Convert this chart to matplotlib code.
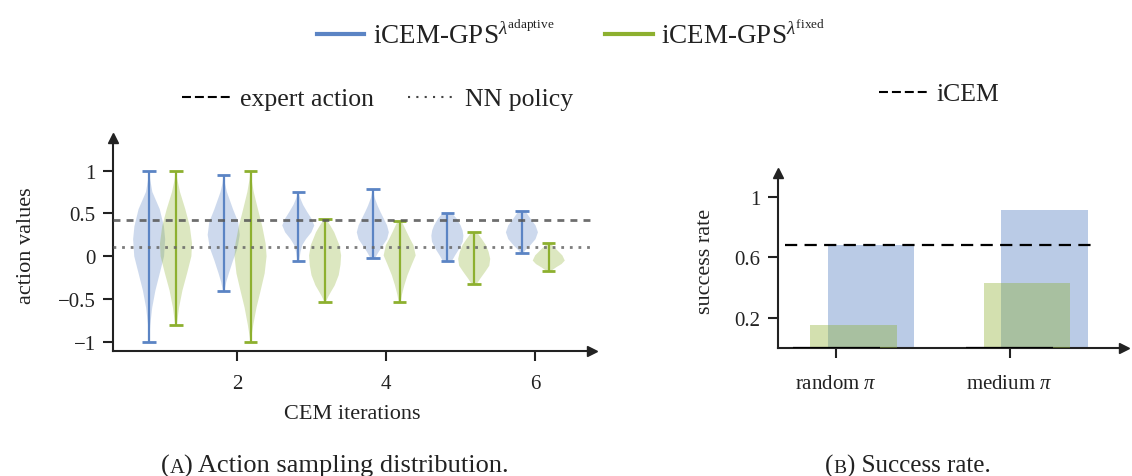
import numpy as np
import matplotlib
matplotlib.use("Agg")
import matplotlib.pyplot as plt
from matplotlib.lines import Line2D

plt.rcParams["font.family"] = ["Liberation Serif", "DejaVu Serif"]
plt.rcParams["mathtext.fontset"] = "custom"
plt.rcParams["mathtext.rm"] = "Liberation Serif"
plt.rcParams["mathtext.it"] = "Liberation Serif:italic"
plt.rcParams["mathtext.bf"] = "Liberation Serif:bold"
plt.rcParams["axes.unicode_minus"] = True

# ---------------------------------------------------------------- data
iterations = [1, 2, 3, 4, 5, 6]

adaptive_min = [-1.00, -0.40, -0.06, -0.02, -0.05, 0.04]
adaptive_max = [1.00, 0.95, 0.75, 0.78, 0.50, 0.53]
fixed_min = [-0.80, -1.00, -0.53, -0.53, -0.32, -0.17]
fixed_max = [1.00, 1.00, 0.44, 0.41, 0.28, 0.15]

# sampled action density per iteration (action value, relative density)
adaptive_density_y = [
    [-1.0, -0.8, -0.6, -0.4, -0.2, 0.0, 0.2, 0.35, 0.55, 0.75, 0.9, 1.0],
    [-0.4, -0.3, -0.2, -0.05, 0.1, 0.25, 0.4, 0.55, 0.75, 0.85, 0.95],
    [-0.06, 0.05, 0.13, 0.2, 0.28, 0.36, 0.44, 0.52, 0.6, 0.68, 0.75],
    [-0.02, 0.05, 0.13, 0.2, 0.28, 0.36, 0.44, 0.52, 0.59, 0.68, 0.78],
    [-0.05, 0.01, 0.09, 0.17, 0.24, 0.3, 0.36, 0.44, 0.5],
    [0.04, 0.07, 0.13, 0.2, 0.28, 0.36, 0.44, 0.53],
]
adaptive_density = [
    [0.0, 0.07, 0.19, 0.39, 0.66, 0.93, 1.0, 0.92, 0.66, 0.2, 0.06, 0.0],
    [0.05, 0.16, 0.32, 0.58, 0.87, 1.0, 0.9, 0.58, 0.2, 0.08, 0.0],
    [0.05, 0.14, 0.25, 0.48, 0.82, 1.0, 0.82, 0.55, 0.3, 0.12, 0.0],
    [0.15, 0.36, 0.64, 0.89, 1.0, 0.89, 0.68, 0.47, 0.3, 0.12, 0.0],
    [0.3, 0.48, 0.75, 0.96, 1.0, 0.95, 0.83, 0.58, 0.3],
    [0.1, 0.21, 0.53, 0.85, 1.0, 0.85, 0.53, 0.2],
]
fixed_density_y = [
    [-0.8, -0.6, -0.4, -0.2, 0.0, 0.15, 0.35, 0.55, 0.75, 0.9, 1.0],
    [-1.0, -0.8, -0.6, -0.4, -0.2, 0.0, 0.15, 0.35, 0.55, 0.75, 0.9, 1.0],
    [-0.53, -0.47, -0.41, -0.34, -0.22, -0.1, 0.01, 0.13, 0.2, 0.28, 0.36, 0.44],
    [-0.53, -0.45, -0.34, -0.22, -0.1, 0.01, 0.13, 0.2, 0.28, 0.36, 0.41],
    [-0.32, -0.26, -0.18, -0.11, -0.03, 0.05, 0.13, 0.2, 0.28],
    [-0.17, -0.13, -0.09, -0.05, 0.01, 0.07, 0.13, 0.15],
]
fixed_density = [
    [0.05, 0.19, 0.4, 0.69, 0.96, 1.0, 0.86, 0.58, 0.25, 0.08, 0.0],
    [0.0, 0.17, 0.37, 0.63, 0.88, 1.0, 0.94, 0.73, 0.46, 0.2, 0.06, 0.0],
    [0.05, 0.2, 0.38, 0.6, 0.85, 0.96, 1.0, 0.89, 0.74, 0.57, 0.32, 0.03],
    [0.06, 0.14, 0.29, 0.49, 0.75, 1.0, 0.86, 0.66, 0.45, 0.25, 0.12],
    [0.17, 0.38, 0.69, 0.94, 1.0, 0.9, 0.73, 0.48, 0.17],
    [0.15, 0.45, 0.8, 1.0, 0.85, 0.53, 0.21, 0.05],
]

expert_action = 0.42
nn_policy_action = 0.11

policies = ["random $\\pi$", "medium $\\pi$"]
adaptive_success = [0.68, 0.914]
fixed_success = [0.151, 0.432]
nn_policy_success = [0.0, 0.0]
icem_success = 0.68

# ---------------------------------------------------------------- style
BLUE = "#5b84c4"
GREEN = "#8db02f"
INK = "#222222"
FS_TICK = 15
FS_LABEL = 16
FS_BIG = 18.5
FS_TOP = 19.5

W, H = 1132, 477
fig = plt.figure(figsize=(W / 100, H / 100), dpi=100)


def px_axes(x0, y0, x1, y1):
    return fig.add_axes([x0 / W, 1 - y1 / H, (x1 - x0) / W, (y1 - y0) / H])


def arrow_axes(ax):
    for side in ("top", "right"):
        ax.spines[side].set_visible(False)
    for side in ("left", "bottom"):
        ax.spines[side].set_color(INK)
        ax.spines[side].set_linewidth(1.5)
    ax.plot(1, 0, ">", color=INK, ms=7, transform=ax.transAxes, clip_on=False)
    ax.plot(0, 1, "^", color=INK, ms=7, transform=ax.transAxes, clip_on=False)
    ax.tick_params(direction="out", length=7.5, width=1.5, color=INK,
                   labelsize=FS_TICK, labelcolor=INK, pad=5)


# ---------------------------------------------------------------- (A) violins
axA = px_axes(113, 139, 592, 352)
arrow_axes(axA)

offset = 0.18
vw = 0.43
cap = 0.09


def stats(ys, ds, lo, hi):
    out = []
    for y, d, a, b in zip(ys, ds, lo, hi):
        out.append(dict(coords=np.array(y), vals=np.array(d), mean=np.mean(y),
                        median=np.median(y), min=a, max=b))
    return out


for ys, ds, lo, hi, sign, col in [
    (adaptive_density_y, adaptive_density, adaptive_min, adaptive_max, -1, BLUE),
    (fixed_density_y, fixed_density, fixed_min, fixed_max, 1, GREEN),
]:
    pos = np.array(iterations) + sign * offset
    parts = axA.violin(stats(ys, ds, lo, hi), positions=pos, widths=vw,
                       showextrema=False)
    for body in parts["bodies"]:
        body.set_facecolor(col)
        body.set_edgecolor("none")
        body.set_alpha(0.3)
    axA.vlines(pos, lo, hi, color=col, lw=1.6, zorder=3)
    axA.hlines(lo, pos - cap, pos + cap, color=col, lw=2.0, zorder=3)
    axA.hlines(hi, pos - cap, pos + cap, color=col, lw=2.0, zorder=3)

axA.axhline(expert_action, color="#555555", alpha=0.85, lw=2.0, dashes=(2.5, 2.2), zorder=4)
axA.axhline(nn_policy_action, color="#666666", alpha=0.85, lw=2.0, dashes=(1.0, 2.1), zorder=4)

axA.set_xlim(0.335, 6.76)
axA.set_ylim(-1.105, 1.38)
axA.set_xticks([2, 4, 6])
axA.set_yticks([-1, -0.5, 0, 0.5, 1])
axA.set_yticklabels(["\u22121", "\u22120.5", "0", "0.5", "1"])
axA.tick_params(axis="x", pad=9)
axA.set_xlabel("CEM iterations", fontsize=FS_LABEL, color=INK, labelpad=8)
axA.set_ylabel("action values", fontsize=FS_LABEL, color=INK, labelpad=16)

# ---------------------------------------------------------------- (B) bars
axB = px_axes(778, 174, 1124, 349)
arrow_axes(axB)

bx = np.arange(len(policies))
bw = 0.5
axB.bar(bx + 0.2, adaptive_success, bw, color=BLUE, alpha=0.42, lw=0, zorder=2)
axB.bar(bx + 0.1, fixed_success, bw, color=GREEN, alpha=0.38, lw=0, zorder=3)
axB.bar(bx, nn_policy_success, bw, color="black", edgecolor="black", lw=1.6, zorder=4)
axB.axhline(icem_success, xmin=0.02, xmax=0.92, color="black", lw=1.6,
            dashes=(5.5, 3.3), zorder=5)

axB.set_xlim(-0.337, 1.66)
axB.set_ylim(0, 1.16)
axB.set_yticks([0.2, 0.6, 1])
axB.set_yticklabels(["0.2", "0.6", "1"])
axB.set_xticks(bx)
axB.set_xticklabels(policies)
axB.tick_params(axis="x", pad=11)
axB.set_ylabel("success rate", fontsize=FS_LABEL, color=INK, labelpad=14)

# ---------------------------------------------------------------- legends
top_handles = [Line2D([], [], color=BLUE, lw=3), Line2D([], [], color=GREEN, lw=3)]
top_labels = [r"iCEM-GPS$^{\lambda^{\mathrm{adaptive}}}$",
              r"iCEM-GPS$^{\lambda^{\mathrm{fixed}}}$"]
fig.legend(top_handles, top_labels, loc="center", bbox_to_anchor=(571 / W, 1 - 36 / H),
           ncol=2, frameon=False, fontsize=FS_TOP, handlelength=1.75,
           columnspacing=1.9, handletextpad=0.3, labelcolor=INK)

fig.legend([Line2D([], [], color="black", lw=1.5, dashes=(4.3, 1.9)),
            Line2D([], [], color="#444444", lw=1.5, dashes=(1.0, 3.0))],
           ["expert action", "NN policy"], loc="center",
           bbox_to_anchor=(378 / W, 1 - 100 / H), ncol=2, frameon=False,
           fontsize=FS_BIG, handlelength=1.9, columnspacing=1.3, handletextpad=0.35,
           labelcolor=INK)

fig.legend([Line2D([], [], color="black", lw=1.5, dashes=(4.3, 1.9))], ["iCEM"],
           loc="center", bbox_to_anchor=(939 / W, 1 - 95 / H), frameon=False,
           fontsize=FS_BIG, handlelength=1.9, handletextpad=0.35, labelcolor=INK)

# ---------------------------------------------------------------- captions
renderer = fig.canvas.get_renderer()


def caption(xc, yc, letter, rest, size):
    parts = [("(", size), (letter, size * 0.78), (rest, size)]
    texts = [fig.text(0, 1 - yc / H, s, fontsize=f, va="baseline", color=INK)
             for s, f in parts]
    widths = [t.get_window_extent(renderer).width for t in texts]
    x = xc - sum(widths) / 2
    for t, w in zip(texts, widths):
        t.set_x(x / W)
        x += w


caption(335, 473, "A", ") Action sampling distribution.", 19)
caption(908, 473, "B", ") Success rate.", 18)

fig.savefig("out.png", dpi=100)
